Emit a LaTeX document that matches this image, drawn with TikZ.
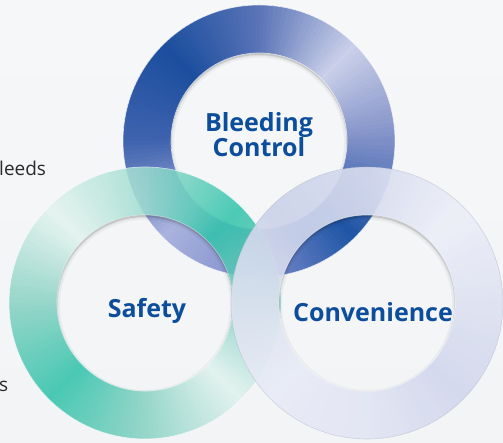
\documentclass[tikz,border=0pt]{standalone}
\usepackage{fontspec}
\setmainfont{Open Sans}

% crown ring (blue), angle stops every 45 degrees
\definecolor{ta0}{HTML}{7F8FC7}
\definecolor{ta1}{HTML}{CAD0E9}
\definecolor{ta2}{HTML}{5A74B7}
\definecolor{ta3}{HTML}{1B4E9E}
\definecolor{ta4}{HTML}{3F63AE}
\definecolor{ta5}{HTML}{AAB3DD}
\definecolor{ta6}{HTML}{7D8CCC}
\definecolor{ta7}{HTML}{1F55A5}
\colorlet{ta8}{ta0}
% left ring (teal)
\definecolor{la0}{HTML}{79CDBD}
\definecolor{la1}{HTML}{2FC3AA}
\definecolor{la2}{HTML}{9DDCCF}
\definecolor{la3}{HTML}{E3F3EF}
\definecolor{la4}{HTML}{86D1C2}
\definecolor{la5}{HTML}{2CC1A8}
\definecolor{la6}{HTML}{86D1C2}
\definecolor{la7}{HTML}{E0F2EE}
\colorlet{la8}{la0}
% right ring (lavender)
\definecolor{ra0}{HTML}{DEE2F1}
\definecolor{ra1}{HTML}{EDEFF8}
\definecolor{ra2}{HTML}{D6DBEE}
\definecolor{ra3}{HTML}{CCD3EA}
\definecolor{ra4}{HTML}{DCE1F0}
\definecolor{ra5}{HTML}{E9ECF6}
\definecolor{ra6}{HTML}{E2E5F3}
\definecolor{ra7}{HTML}{D2D8ED}
\colorlet{ra8}{ra0}

\definecolor{labelblue}{HTML}{0C4E9C}
\definecolor{sidegray}{HTML}{2A2A2A}
\definecolor{bgtop}{HTML}{F6F7F8}
\definecolor{bgmid}{HTML}{EEF0F2}
\definecolor{bgbot}{HTML}{F3F4F6}

\def\Rout{136pt}
\def\Rin{88pt}

% ring with an angular colour gradient built from thin sectors
\newcommand{\conicring}[2]{%
  \begin{scope}[shift={(#1)}]
    \foreach \ra in {0,2,...,358}{%
      \pgfmathsetmacro{\ramid}{\ra+1}%
      \pgfmathtruncatemacro{\rk}{floor(\ramid/45)}%
      \pgfmathtruncatemacro{\rkn}{\rk+1}%
      \pgfmathtruncatemacro{\rp}{round(100-(\ramid-45*\rk)*100/45)}%
      \pgfmathsetmacro{\raend}{\ra+3}%
      \fill[fill={#2\rk!\rp!#2\rkn}]
        (\ra:\Rout) arc[start angle=\ra, end angle=\raend, radius=\Rout]
        -- (\raend:\Rin) arc[start angle=\raend, end angle=\ra, radius=\Rin] -- cycle;
    }
  \end{scope}}

% soft shadow along the upper edge of a ring's hole
\newcommand{\holeshadow}[1]{%
  \begin{scope}
    \clip (#1) circle[radius=\Rin];
    \foreach \sw/\so in {2/0.10,4/0.06,8/0.04}{%
      \draw[line width=\sw pt, black, draw opacity=\so]
        ([yshift=-2pt]#1) circle[radius=\Rin+1pt];
    }
  \end{scope}}

\begin{document}
\begin{tikzpicture}[x=1pt,y=1pt,
  ringlabel/.style={font=\fontsize{25}{25}\selectfont\bfseries, text=labelblue, inner sep=0pt},
  sidetext/.style={font=\fontsize{19}{23}\selectfont, text=sidegray, inner sep=0pt},
  rimline/.style={draw=white, line width=0.7pt, draw opacity=0.7}]
\useasboundingbox (0,0) rectangle (503,443);
\clip (0,0) rectangle (503,443);

% backdrop
\shade[top color=bgtop, middle color=bgmid, bottom color=bgbot] (0,0) rectangle (503,443);

\coordinate (ctop) at (259,302);
\coordinate (cleft) at (145,140);
\coordinate (cright) at (367,140);

% text running in from the left
\node[sidetext, anchor=base west] (leeds) at (-1,267) {leeds};
\node[sidetext, anchor=base west] (tail) at (-1,51) {s};

% blue ring
\conicring{ctop}{ta}
\holeshadow{ctop}
\draw[rimline] (ctop) circle[radius=\Rout] (ctop) circle[radius=\Rin];

% teal ring, slightly see-through
\begin{scope}[transparency group, opacity=0.85]
  \conicring{cleft}{la}
  \draw[rimline] (cleft) circle[radius=\Rout] (cleft) circle[radius=\Rin];
\end{scope}
\holeshadow{cleft}

% lavender ring on top
\begin{scope}[transparency group, opacity=0.93]
  \conicring{cright}{ra}
  \draw[draw=ra3!85!black, line width=0.6pt, draw opacity=0.5] (cright) circle[radius=\Rout];
  \draw[rimline] (cright) circle[radius=\Rin];
\end{scope}
\holeshadow{cright}

% labels
\node[ringlabel, align=center] (bleed) at (259,308) {Bleeding\\Control};
\node[ringlabel, anchor=base] (safety) at (147,125) {Safety};
\node[ringlabel, anchor=base] (conv) at (373,121) {Convenience};
\end{tikzpicture}
\end{document}
